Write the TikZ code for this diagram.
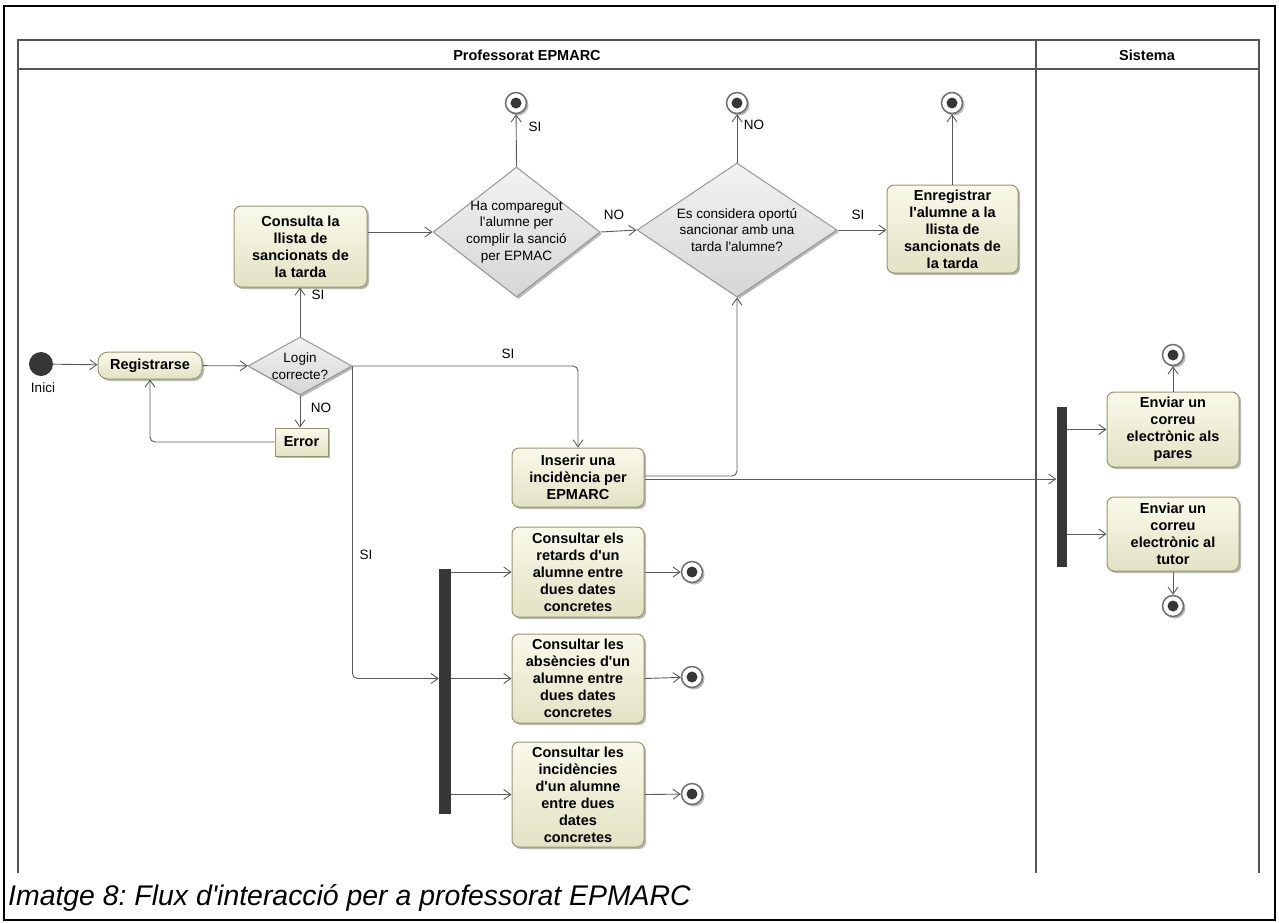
\documentclass[tikz,border=0pt]{standalone}
\usepackage{fontspec}
\setmainfont{Liberation Sans}[Ligatures=TeXOff]
\usetikzlibrary{arrows.meta,shapes.geometric,shadows}

\definecolor{actTop}{RGB}{249,249,234}
\definecolor{actBot}{RGB}{226,226,196}
\definecolor{actLine}{RGB}{150,150,112}
\definecolor{diaTop}{RGB}{242,242,242}
\definecolor{diaBot}{RGB}{214,214,214}
\definecolor{diaLine}{RGB}{150,150,150}
\definecolor{flowLine}{RGB}{90,90,90}
\definecolor{darkNode}{RGB}{55,55,55}
\definecolor{laneLine}{RGB}{85,85,85}
\definecolor{finLine}{RGB}{110,110,110}

\begin{document}
\frenchspacing
\begin{tikzpicture}[x=1pt,y=-1pt,
  shadowed/.style={drop shadow={shadow xshift=2pt,shadow yshift=-2pt,opacity=0.28,fill=black}},
  actbox/.style={shape=rectangle,rounded corners=7pt,draw=actLine,line width=1pt,
    top color=actTop,bottom color=actBot,shadowed,align=center,
    font=\fontsize{14.5}{17}\selectfont\bfseries,inner sep=0pt},
  errbox/.style={actbox,rounded corners=0pt},
  decision/.style={shape=diamond,draw=diaLine,line width=1pt,top color=diaTop,bottom color=diaBot,
    shadowed,inner sep=0pt},
  dtext/.style={align=center,font=\fontsize{13.5}{16.7}\selectfont,inner sep=0pt},
  forkbar/.style={shape=rectangle,fill=darkNode,inner sep=0pt},
  initnode/.style={shape=circle,fill=darkNode,minimum size=24pt,inner sep=0pt},
  finalnode/.style={shape=circle,draw=finLine,line width=1.5pt,fill=white,minimum size=21pt,inner sep=0pt,
    shadowed,path picture={\fill[darkNode] (path picture bounding box.center) circle (5.5pt);}},
  flow/.style={draw=flowLine,line width=0.9pt,-{Straight Barb[length=7pt,width=10pt]},rounded corners=5pt},
  lbl/.style={font=\fontsize{13.5}{16}\selectfont,inner sep=0pt},
  lanehead/.style={font=\fontsize{14.5}{16}\selectfont\bfseries,inner sep=0pt},
  lane/.style={draw=laneLine,line width=1.6pt}
]
\useasboundingbox (0,0) rectangle (1279,922);

% outer frame
\draw[black,line width=2pt] (4,6) rectangle (1275,920);

% swimlanes
\draw[lane] (18,873) -- (18,40) -- (1259,40) -- (1259,873);
\draw[lane] (18,69) -- (1259,69);
\draw[lane] (1036,40) -- (1036,873);
\node[lanehead] (hprof) at (527,55) {Professorat EPMARC};
\node[lanehead] (hsis) at (1147,55) {Sistema};

% nodes
\node[initnode] (init) at (41,364) {};
\node[lbl,anchor=north] (inici) at (43,383) {Inici};

\node[actbox,minimum width=104pt,minimum height=27pt,rounded corners=10pt] (reg) at (150,365.5) {Registrarse};
\node[decision,minimum width=104pt,minimum height=58pt] (login) at (300,366) {};
\node[dtext] (logint) at (300,366) {Login\\correcte?};
\node[errbox,minimum width=53pt,minimum height=28pt] (err) at (301.5,442) {Error};

\node[actbox,minimum width=133pt,minimum height=81pt] (cons) at (300.5,246.5) {Consulta la\\llista de\\sancionats de\\la tarda};
\node[decision,minimum width=167pt,minimum height=130pt] (dia1) at (516.5,232) {};
\node[dtext] (dia1t) at (516.5,232) {Ha comparegut\\l'alumne per\\complir la sanció\\per EPMAC};
\node[decision,minimum width=200pt,minimum height=134pt] (dia2) at (737,230) {};
\node[dtext] (dia2t) at (737,230) {Es considera oportú\\sancionar amb una\\tarda l'alumne?};
\node[actbox,minimum width=131pt,minimum height=88pt] (enreg) at (952.5,229) {Enregistrar\\l'alumne a la\\llista de\\sancionats de\\la tarda};

\node[finalnode] (f1) at (516,103) {};
\node[finalnode] (f2) at (737,103) {};
\node[finalnode] (f3) at (952,103) {};

\node[actbox,minimum width=132pt,minimum height=59pt] (ins) at (578,477.5) {Inserir una\\incidència per\\EPMARC};

\node[forkbar,minimum width=12pt,minimum height=245pt] (fork1) at (445,691.5) {};
\node[actbox,minimum width=132pt,minimum height=90pt] (ret) at (578,572) {Consultar els\\retards d'un\\alumne entre\\dues dates\\concretes};
\node[actbox,minimum width=132pt,minimum height=89pt] (abs) at (578,678.5) {Consultar les\\absències d'un\\alumne entre\\dues dates\\concretes};
\node[actbox,minimum width=132pt,minimum height=105pt] (inc) at (578,794.5) {Consultar les\\incidències\\d'un alumne\\entre dues\\dates\\concretes};
\node[finalnode] (f6) at (692,572) {};
\node[finalnode] (f7) at (692,677) {};
\node[finalnode] (f8) at (692,794) {};

\node[forkbar,minimum width=10pt,minimum height=160pt] (fork2) at (1061.5,487) {};
\node[actbox,minimum width=132pt,minimum height=75pt] (pares) at (1173,429.5) {Enviar un\\correu\\electrònic als\\pares};
\node[actbox,minimum width=132pt,minimum height=74pt] (tutor) at (1173,534) {Enviar un\\correu\\electrònic al\\tutor};
\node[finalnode] (f4) at (1173,355) {};
\node[finalnode] (f5) at (1173,606) {};

% connectors
\draw[flow] (init) -- (reg);
\draw[flow] (reg) -- (login);
\draw[flow] (login.south) -- (login.south |- err.north);
\draw[flow] (err.west) -| (reg.south);
\draw[flow] (login.north) -- (login.north |- cons.south);
\draw[flow] (cons.east |- dia1.west) -- (dia1.west);
\draw[flow] (dia1.north) -- (f1);
\draw[flow] (dia1.east) -- (dia2.west);
\draw[flow] (dia2.north) -- (f2);
\draw[flow] (dia2.east) -- (enreg.west |- dia2.east);
\draw[flow] (enreg.north -| f3) -- (f3);
\draw[flow] (login.east) -| (ins.north);
\draw[flow] (login.east) |- (fork1.west |- abs.west);
\draw[flow] ([yshift=1.5pt]ins.east) -| (dia2.south);
\draw[flow] ([yshift=-1.5pt]ins.east) -- ([yshift=-1.5pt]ins.east -| fork2.west);
\draw[flow] (fork2.east |- pares.west) -- (pares.west);
\draw[flow] (fork2.east |- tutor.west) -- (tutor.west);
\draw[flow] (pares.north) -- (f4);
\draw[flow] (tutor.south) -- (f5);
\draw[flow] (fork1.east |- ret.west) -- (ret.west);
\draw[flow] (fork1.east |- abs.west) -- (abs.west);
\draw[flow] (fork1.east |- inc.west) -- (inc.west);
\draw[flow] (ret.east) -- (f6);
\draw[flow] (abs.east) -- (f7);
\draw[flow] (inc.east) -- (f8);

% labels
\node[lbl] (lsi1) at (318,295) {SI};
\node[lbl] (lno1) at (321,408) {NO};
\node[lbl] (lsi2) at (535,127) {SI};
\node[lbl] (lno2) at (614,215) {NO};
\node[lbl] (lno3) at (754,125) {NO};
\node[lbl] (lsi3) at (858,215) {SI};
\node[lbl] (lsi4) at (508,354) {SI};
\node[lbl] (lsi5) at (366,555) {SI};

% caption
\node[anchor=west,inner sep=0pt,font=\fontsize{28.4}{31}\selectfont\itshape] (cap) at (8,898) {Imatge 8: Flux d'interacció per a professorat EPMARC};
\end{tikzpicture}
\end{document}
